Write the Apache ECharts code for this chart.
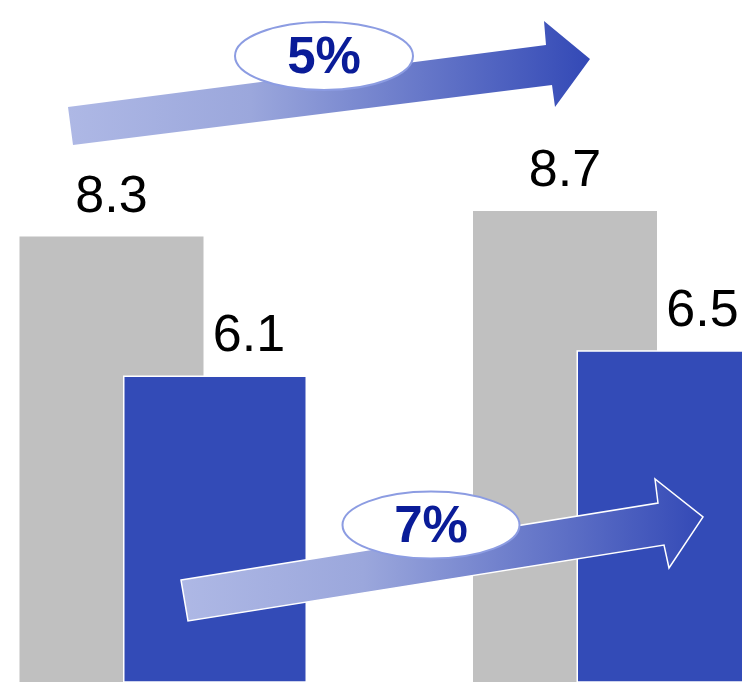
<!DOCTYPE html>
<html>
<head>
<meta charset="utf-8">
<script src="https://cdn.jsdelivr.net/npm/echarts@6/dist/echarts.min.js"></script>
<style>
html,body{margin:0;padding:0;background:#fff;}
#chart{width:742px;height:682px;}
</style>
</head>
<body>
<div id="chart"></div>
<script>
// Data
var categories = ['A', 'B'];
var grayValues = [8.3, 8.7];
var blueValues = [6.1, 6.5];
var growthLabels = ['5%', '7%'];

var FONT = '"Liberation Sans", Arial, sans-serif';
var chart = echarts.init(document.getElementById('chart'));

function arrowGradient() {
  return new echarts.graphic.LinearGradient(0, 0, 1, 0, [
    { offset: 0, color: '#AEB8E5' },
    { offset: 0.35, color: '#9BA7DC' },
    { offset: 1, color: '#3349B6' }
  ]);
}

var option = {
  animation: false,
  backgroundColor: '#fff',
  grid: { left: -63.5, right: -101.5, top: 0, bottom: 0, outerBoundsMode: 'none', containLabel: false },
  xAxis: {
    type: 'category',
    data: categories,
    show: false
  },
  yAxis: {
    type: 'value',
    min: 1.25,
    max: 12.04,
    show: false,
    splitLine: { show: false }
  },
  series: [
    {
      type: 'bar',
      data: grayValues,
      barWidth: 184,
      barGap: '-43.75%',
      itemStyle: { color: '#C0C0C0' },
      label: {
        show: true,
        position: 'top',
        distance: 13,
        color: '#000',
        fontSize: 52,
        fontFamily: FONT
      },
      z: 2
    },
    {
      type: 'bar',
      data: blueValues,
      barWidth: 184,
      itemStyle: { color: '#334BB7', borderColor: '#ffffff', borderWidth: 1.5 },
      label: {
        show: true,
        position: 'top',
        distance: 13,
        offset: [34, 0],
        color: '#000',
        fontSize: 52,
        fontFamily: FONT
      },
      z: 3
    }
  ],
  graphic: [
    {
      type: 'polygon',
      z: 100,
      shape: { points: [[68,107],[546,45],[544,21],[590,59],[555,107],[552,85],[73,145]] },
      style: { fill: arrowGradient(), stroke: 'none' }
    },
    {
      type: 'ellipse',
      z: 101,
      shape: { cx: 324, cy: 56, rx: 89, ry: 34 },
      style: { fill: '#ffffff', stroke: '#8C9CE2', lineWidth: 2 }
    },
    {
      type: 'text',
      z: 102,
      x: 324, y: 59,
      style: {
        text: growthLabels[0],
        font: 'bold 51px ' + FONT,
        fill: '#0A1C98',
        textAlign: 'center',
        textVerticalAlign: 'middle'
      }
    },
    {
      type: 'polygon',
      z: 100,
      shape: { points: [[181,580],[658,503],[655,479],[703,517],[669,568],[664,545],[188,621]] },
      style: { fill: arrowGradient(), stroke: '#ffffff', lineWidth: 1.5 }
    },
    {
      type: 'ellipse',
      z: 101,
      shape: { cx: 431, cy: 525, rx: 88.5, ry: 33.5 },
      style: { fill: '#ffffff', stroke: '#8C9CE2', lineWidth: 2 }
    },
    {
      type: 'text',
      z: 102,
      x: 431, y: 528,
      style: {
        text: growthLabels[1],
        font: 'bold 51px ' + FONT,
        fill: '#0A1C98',
        textAlign: 'center',
        textVerticalAlign: 'middle'
      }
    }
  ]
};
chart.setOption(option);
</script>
</body>
</html>
